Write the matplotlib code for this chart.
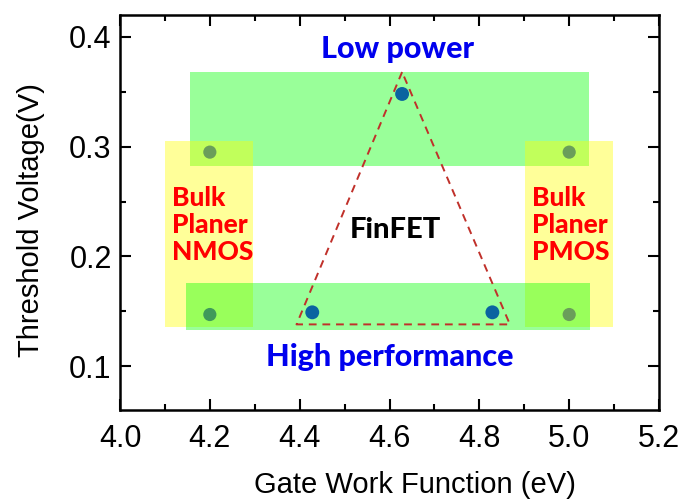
import numpy as np
import matplotlib
matplotlib.use("Agg")
import matplotlib.pyplot as plt
from matplotlib.patches import Rectangle
from matplotlib.ticker import MultipleLocator

plt.rcParams.update({
    "font.family": ["Liberation Sans", "DejaVu Sans"],
})

# regions: (x0, x1, y0, y1)
green_top = (4.155, 5.045, 0.282, 0.368)
green_bottom = (4.147, 5.046, 0.133, 0.176)
yellow_nmos = (4.100, 4.297, 0.136, 0.305)
yellow_pmos = (4.902, 5.098, 0.136, 0.305)

# bulk planar devices
bulk_x = [4.2, 4.2, 5.0, 5.0]
bulk_y = [0.295, 0.147, 0.295, 0.147]
bulk_colors = ["#6a9e5a", "#3f9a5a", "#6a9e5a", "#6a9e5a"]

# finfet devices
fin_x = [4.628, 4.428, 4.829]
fin_y = [0.348, 0.149, 0.149]

# dashed triangle vertices
tri_x = [4.628, 4.393, 4.868, 4.628]
tri_y = [0.368, 0.138, 0.138, 0.368]

xticks = [4.0, 4.2, 4.4, 4.6, 4.8, 5.0, 5.2]
yticks = [0.1, 0.2, 0.3, 0.4]


def add_rect(ax, r, color, z):
    x0, x1, y0, y1 = r
    ax.add_patch(Rectangle((x0, y0), x1 - x0, y1 - y0, facecolor=color,
                           alpha=0.4, edgecolor="none", zorder=z))


fig = plt.figure(figsize=(6.83, 4.99), dpi=100)
ax = fig.add_axes([0.1757, 0.1784, 0.7892, 0.7916])

add_rect(ax, green_top, "#00ff00", 1)
add_rect(ax, yellow_nmos, "#ffff00", 2)
add_rect(ax, yellow_pmos, "#ffff00", 2)
add_rect(ax, green_bottom, "#00ff00", 3)

ax.plot(tri_x, tri_y, ls=(0, (4, 3)), color="#c0302a", lw=1.4, zorder=4)

ax.scatter(bulk_x, bulk_y, s=90, c=bulk_colors, edgecolors="none", zorder=5)
ax.scatter(fin_x, fin_y, s=100, c="#0a63a0", edgecolors="none", zorder=5)

bold = dict(family=["Lato", "DejaVu Sans"], fontweight=900)
ax.text(4.617, 0.389, "Low power", color="#0000ee", fontsize=22,
        ha="center", va="center", **bold)
ax.text(4.601, 0.108, "High performance", color="#0000ee", fontsize=22,
        ha="center", va="center", **bold)
ax.text(4.614, 0.224, "FinFET", color="black", fontsize=21,
        ha="center", va="center", **bold)
ax.text(4.116, 0.229, "Bulk\nPlaner\nNMOS", color="#ff0000", fontsize=19,
        ha="left", va="center", linespacing=1.15, **bold)
ax.text(4.917, 0.229, "Bulk\nPlaner\nPMOS", color="#ff0000", fontsize=19,
        ha="left", va="center", linespacing=1.15, **bold)

ax.set_xlim(4.0, 5.2)
ax.set_ylim(0.06, 0.42)
ax.set_xticks(xticks)
ax.set_yticks(yticks)
ax.set_xticklabels([f"{v:.1f}" for v in xticks])
ax.set_yticklabels([f"{v:.1f}" for v in yticks])
ax.xaxis.set_minor_locator(MultipleLocator(0.1))
ax.yaxis.set_minor_locator(MultipleLocator(0.05))
ax.tick_params(which="both", direction="in", top=True, right=True,
               width=1.5, labelsize=22)
ax.tick_params(axis="x", pad=10)
ax.tick_params(axis="y", pad=6)
ax.tick_params(which="major", length=8)
ax.tick_params(which="minor", length=4)
for s in ax.spines.values():
    s.set_linewidth(1.8)

ax.set_xlabel("Gate Work Function (eV)", fontsize=21)
ax.set_ylabel("Threshold Voltage(V)", fontsize=21)
ax.xaxis.set_label_coords(0.547, -0.155)
ax.yaxis.set_label_coords(-0.14, 0.48)

fig.savefig("out.png", dpi=100)
